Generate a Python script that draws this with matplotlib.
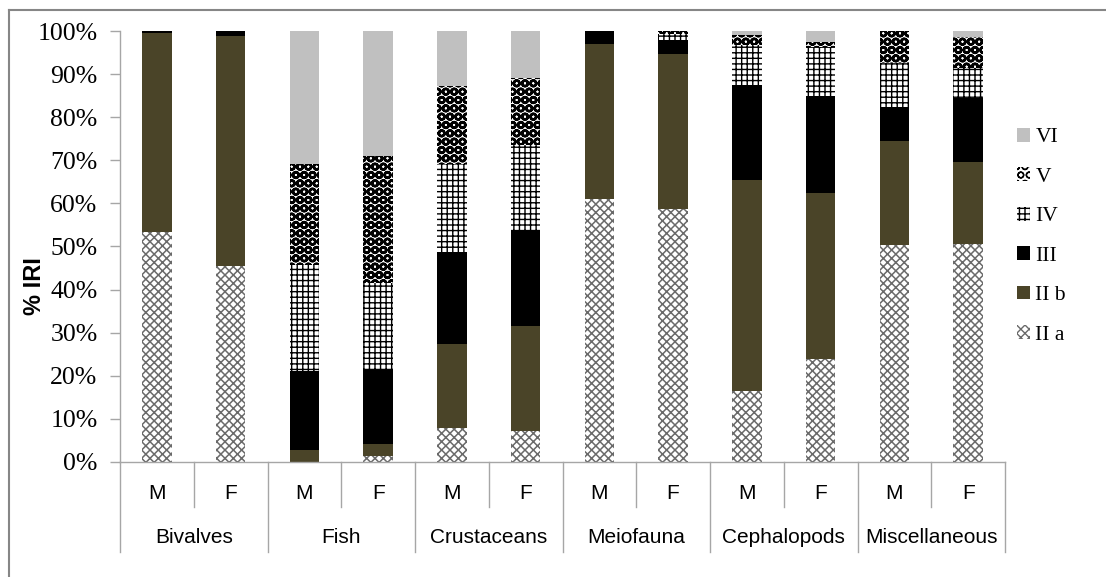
import matplotlib.pyplot as plt
import numpy as np
from matplotlib.patches import Rectangle
from matplotlib.lines import Line2D
from matplotlib.ticker import FuncFormatter

# data (% IRI per maturity stage)
groups = ['Bivalves', 'Fish', 'Crustaceans', 'Meiofauna', 'Cephalopods', 'Miscellaneous']
sexes = ['M', 'F']
stages = ['II a', 'II b', 'III', 'IV', 'V', 'VI']

ii_a = [53.3, 45.5, 0.0, 1.5, 7.8, 7.3, 61.0, 58.6, 16.5, 23.9, 50.3, 50.6]
ii_b = [46.2, 53.3, 2.8, 2.6, 19.5, 24.3, 36.0, 36.1, 48.9, 38.6, 24.2, 18.9]
iii = [0.5, 1.2, 18.3, 17.2, 21.4, 22.2, 3.0, 3.2, 22.1, 22.5, 7.9, 15.0]
iv = [0.0, 0.0, 24.6, 20.3, 20.4, 19.7, 0.0, 1.5, 9.3, 11.4, 10.1, 6.8]
v = [0.0, 0.0, 23.4, 29.4, 18.1, 15.5, 0.0, 0.6, 2.3, 1.1, 7.5, 7.4]
vi = [0.0, 0.0, 30.9, 29.0, 12.8, 11.0, 0.0, 0.0, 0.9, 2.5, 0.0, 1.3]

series = [ii_a, ii_b, iii, iv, v, vi]

# (facecolor, hatch colour, hatch, hatch linewidth)
styles = [
    ('white', '#6A6A6A', 'xxxx', 1.1),
    ('#4A4428', '#4A4428', None, 1.0),
    ('black', 'black', None, 1.0),
    ('white', 'black', '+++', 1.0),
    ('white', 'black', 'OO', 1.8),
    ('#C0C0C0', '#C0C0C0', None, 1.0),
]

axis_gray = '#A6A6A6'


def set_hatch_lw(patch, lw):
    if hasattr(patch, 'set_hatch_linewidth'):
        patch.set_hatch_linewidth(lw)


fig = plt.figure(figsize=(11.06, 5.77), dpi=100)
ax = fig.add_axes([120 / 1106, 1 - 462 / 577, 885 / 1106, 431 / 577])

x = np.arange(len(groups) * len(sexes))
bottom = np.zeros(len(x))
for vals, (fc, ec, h, hlw) in zip(series, styles):
    plt.rcParams['hatch.linewidth'] = hlw
    bars = ax.bar(x, vals, 0.4, bottom=bottom, color=fc, edgecolor=ec, hatch=h, linewidth=0)
    for p in bars:
        set_hatch_lw(p, hlw)
    bottom += np.array(vals)

ax.set_xlim(-0.5, len(x) - 0.5)
ax.set_ylim(0, 100)
ax.set_yticks(np.arange(0, 101, 10))
ax.yaxis.set_major_formatter(FuncFormatter(lambda val, pos: f'{val:.0f}%'))
ax.tick_params(axis='y', length=7.2, width=1, color=axis_gray, pad=9,
               labelsize=18.5, labelfontfamily='Liberation Serif')
ax.set_xticks([])
for side in ['top', 'right']:
    ax.spines[side].set_visible(False)
for side in ['left', 'bottom']:
    ax.spines[side].set_color(axis_gray)
    ax.spines[side].set_linewidth(1)

ax.text(-0.097, 0.408, '% IRI', transform=ax.transAxes, rotation=90,
        ha='center', va='center', fontsize=17, fontweight='bold',
        family='Liberation Sans')

# two-level category axis
trans = ax.get_xaxis_transform()
for i, pos in enumerate(x):
    ax.text(pos, -0.072, sexes[i % 2], transform=trans, ha='center', va='center',
            fontsize=15, family='Liberation Sans')
for g, name in enumerate(groups):
    ax.text(2 * g + 0.5, -0.176, name, transform=trans, ha='center', va='center',
            fontsize=15, family='Liberation Sans')
    ax.add_line(Line2D([2 * g + 0.5, 2 * g + 0.5], [0, -0.104], transform=trans,
                       color=axis_gray, lw=1, clip_on=False))
for b in np.arange(-0.5, len(x), 2):
    ax.add_line(Line2D([b, b], [0, -0.209], transform=trans,
                       color=axis_gray, lw=1, clip_on=False))

# legend (top entry VI)
handles = []
for fc, ec, h, hlw in styles:
    plt.rcParams['hatch.linewidth'] = hlw
    r = Rectangle((0, 0), 1, 1, facecolor=fc, edgecolor=ec, hatch=h, linewidth=0)
    set_hatch_lw(r, hlw)
    handles.append(r)
leg = fig.legend(handles[::-1], stages[::-1], loc='upper left',
                 bbox_to_anchor=(1017 / 1106, 1 - 128 / 577), frameon=False,
                 prop={'family': 'Liberation Serif', 'size': 15.5},
                 handlelength=0.6, handleheight=0.6, handletextpad=0.25,
                 labelspacing=0.93, borderpad=0, borderaxespad=0)

# outer chart border (left and top only are visible)
fig.add_artist(Line2D([9 / 1106, 9 / 1106], [0, 1 - 10 / 577], color='#868686', lw=1.5))
fig.add_artist(Line2D([9 / 1106, 1], [1 - 10 / 577, 1 - 10 / 577], color='#868686', lw=1.5))

fig.savefig('out.png', dpi=100)
